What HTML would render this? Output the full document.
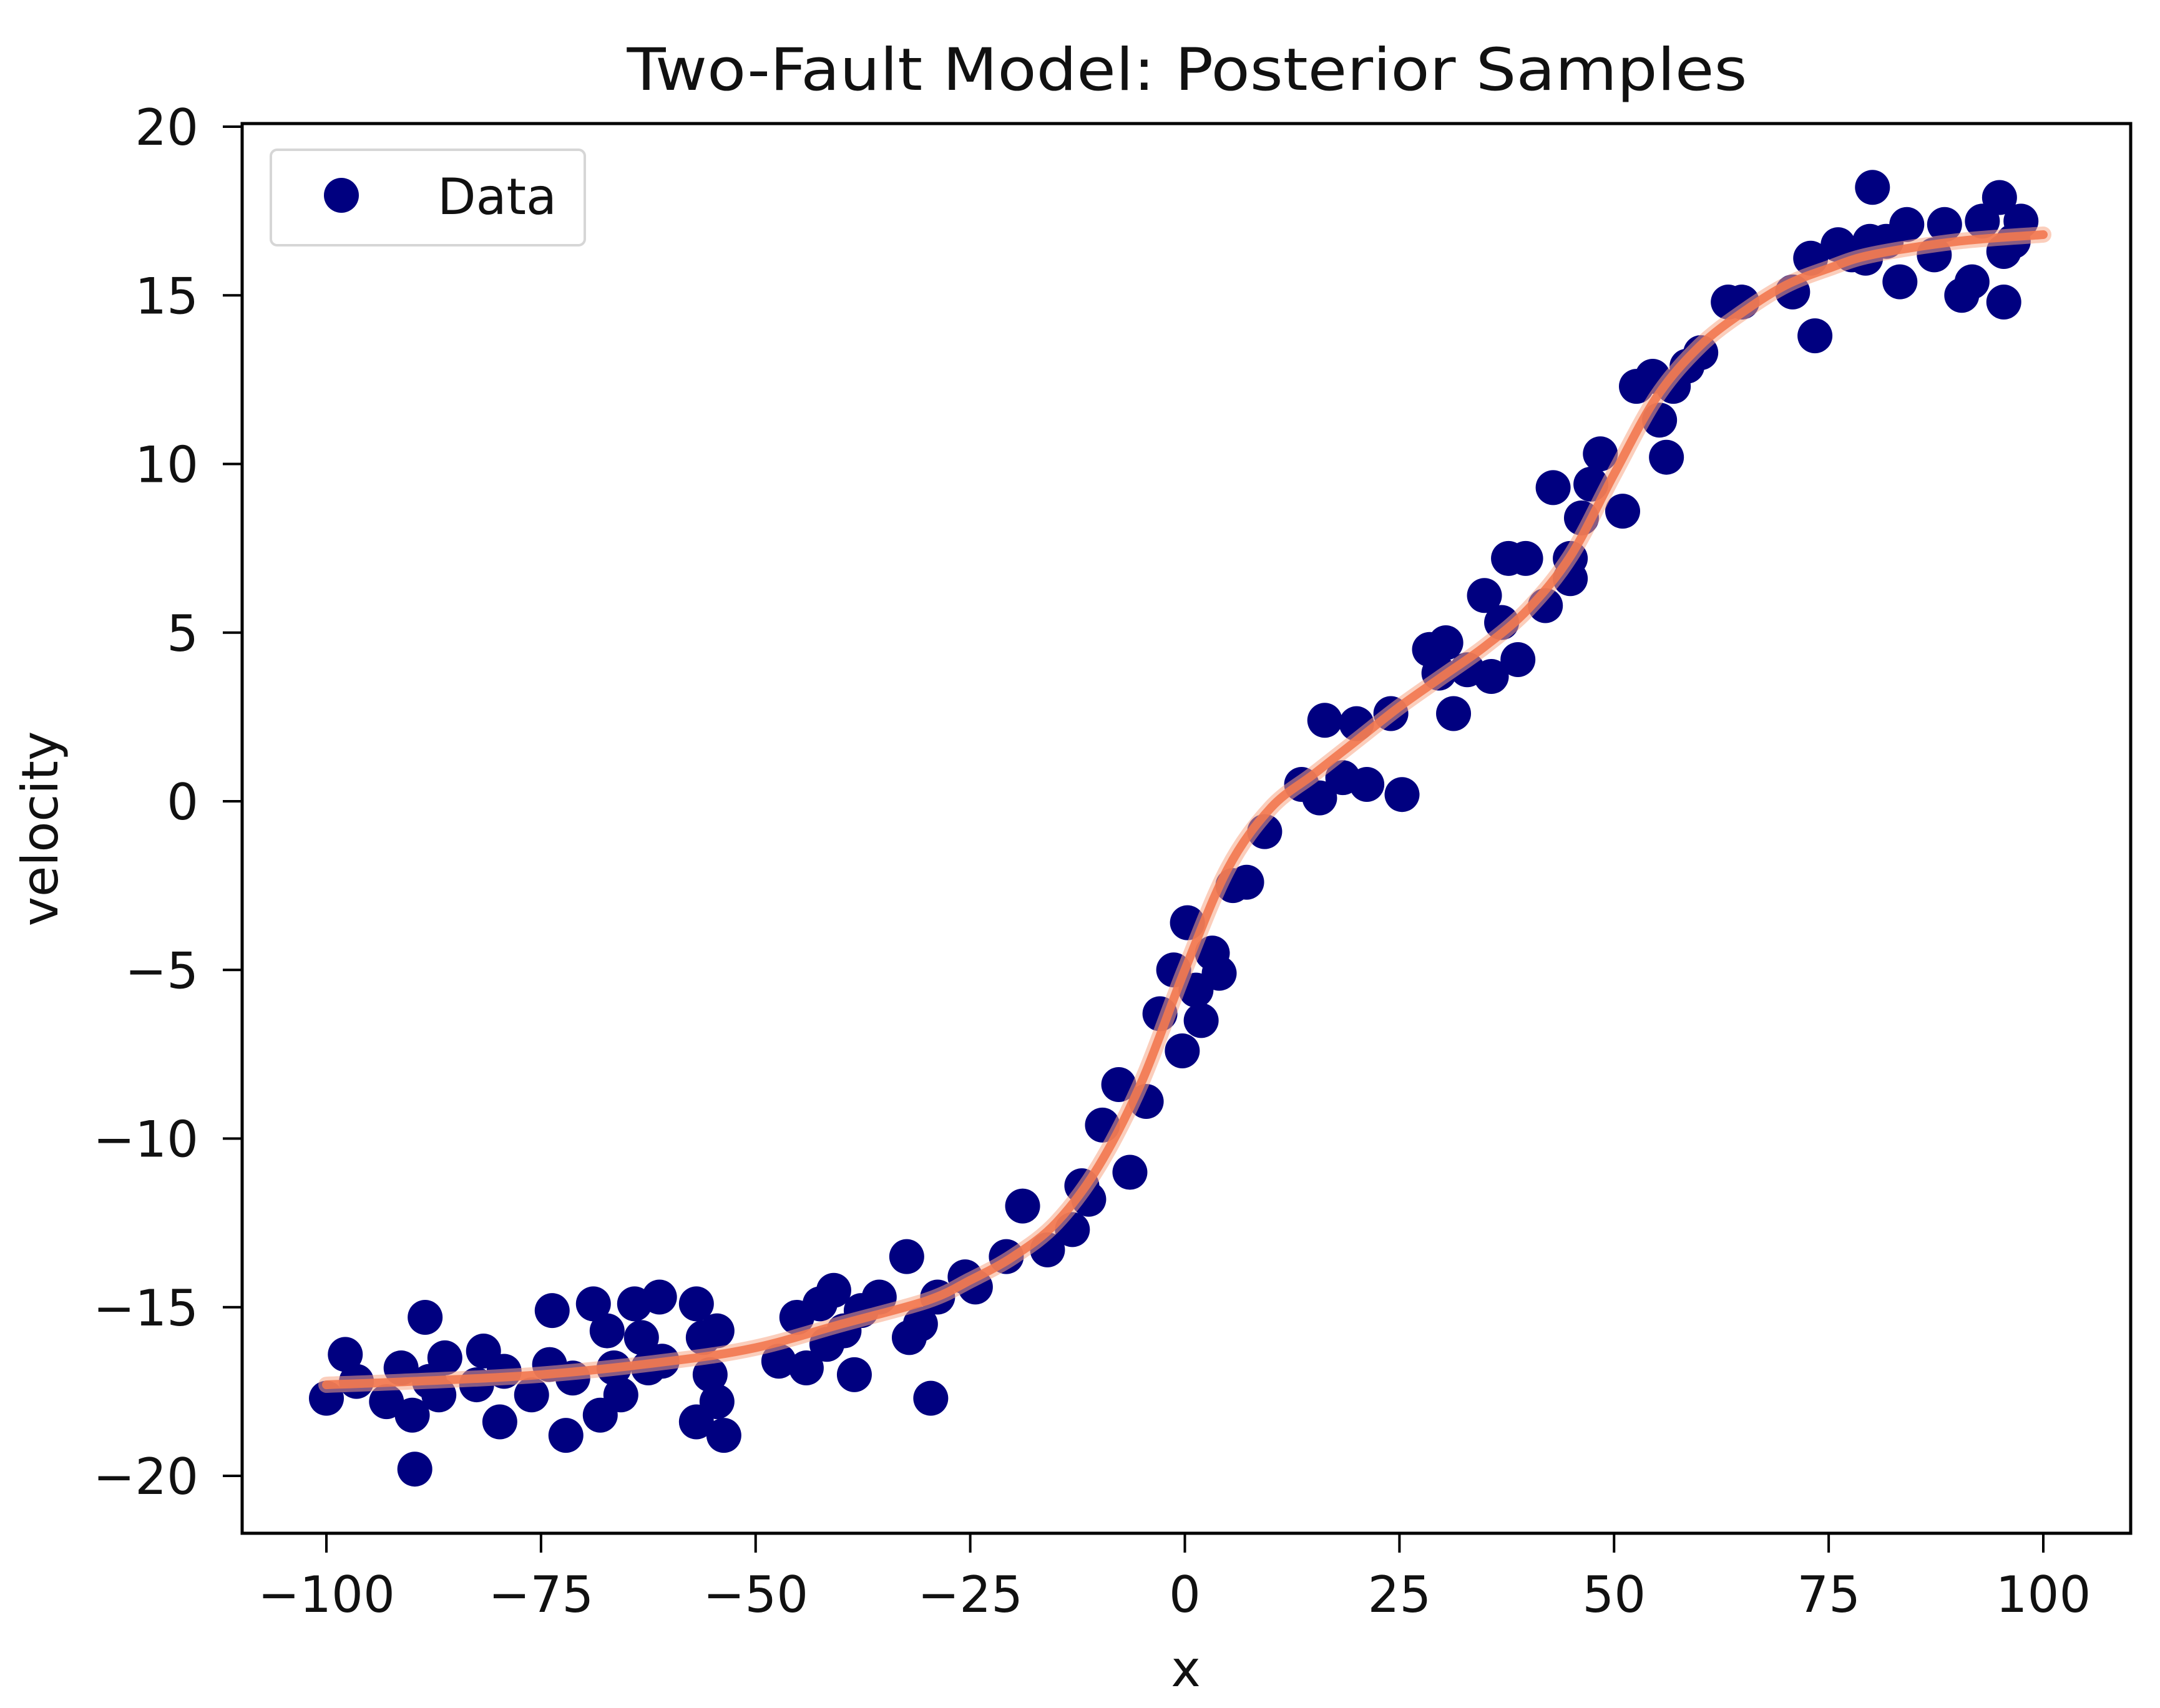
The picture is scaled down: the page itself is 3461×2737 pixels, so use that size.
<!DOCTYPE html>
<html><head><meta charset="utf-8"><style>
html,body{margin:0;padding:0;background:#fff;}
svg{display:block;font-family:"DejaVu Sans","Liberation Sans",sans-serif;}
</style></head><body>
<svg id="chart" width="3461" height="2737" viewBox="0 0 3461 2737" xmlns="http://www.w3.org/2000/svg">
<rect x="0" y="0" width="3461" height="2737" fill="#fff"/>
<text x="1902" y="144" font-size="94" text-anchor="middle" textLength="1795" lengthAdjust="spacingAndGlyphs" fill="#111">Two-Fault Model: Posterior Samples</text>
<g id="marks"></g>
<rect x="388" y="198" width="3026" height="2259" fill="none" stroke="#000" stroke-width="5"/>
<g id="axes"></g>
<text x="1900" y="2702" font-size="80" text-anchor="middle" fill="#111">x</text>
<text transform="translate(92,1328) rotate(-90)" font-size="80" text-anchor="middle" fill="#111">velocity</text>
<g>
<rect x="434" y="240" width="503" height="153" rx="10" fill="#fff" fill-opacity="0.8" stroke="#d6d6d6" stroke-width="4"/>
<circle cx="547" cy="313" r="28" fill="#000080"/>
<text x="701" y="343" font-size="80" fill="#111">Data</text>
</g>
</svg>
<script>
const xTicks = [-100, -75, -50, -25, 0, 25, 50, 75, 100];
const yTicks = [-20, -15, -10, -5, 0, 5, 10, 15, 20];
const dataX = [-100,-97.8,-96.5,-93,-91.3,-90,-89.7,-88.5,-88,-86.9,-86.2,-82.5,-81.7,-79.8,-79.3,-76.1,-74,-73.7,-72.1,-71.3,-68.9,-68.1,-67.3,-66.5,-65.7,-64.1,-63.3,-62.5,-61.2,-60.9,-56.9,-56.9,-56.1,-55.3,-54.5,-53.7,-54.5,
-47.3,-45.2,-44.1,-42.5,-41.7,-40.9,-39.7,-38.5,-37.7,-35.6,-32.4,-32.1,-30.8,-29.6,-28.8,-25.6,-24.4,
-20.8,-18.9,-16,-13.1,-12,-11.2,-9.6,-7.7,-6.4,-4.5,-2.9,-1.3,-0.3,0.3,1.3,1.9,3.2,4,5.6,7.2,9.3,
13.6,15.7,16.3,18.4,20,21.2,24,25.3,28.5,29.6,30.4,31.3,32.9,34.9,35.7,36.9,37.7,38.8,39.7,42,42.9,44.9,44.9,46.2,48.4,47.3,51,
52.6,54.5,55.3,56.1,56.9,58.5,60.1,63.3,64.9,70.8,72.9,73.4,76.1,77.7,79.3,80.1,79.8,81.7,83.3,84.1,87.3,88.5,90.5,91.7,92.9,94.9,95.4,95.4,96.5,97.4];
const dataY = [-17.7,-16.4,-17.2,-17.8,-16.8,-18.2,-19.8,-15.3,-17.2,-17.6,-16.5,-17.3,-16.3,-18.4,-16.9,-17.6,-16.7,-15.1,-18.8,-17.1,-14.9,-18.2,-15.7,-16.8,-17.6,-14.9,-15.9,-16.8,-14.7,-16.6,-14.9,-18.4,-15.9,-17,-17.8,-18.8,-15.7,
-16.6,-15.3,-16.8,-14.9,-16.1,-14.5,-15.7,-17,-15.1,-14.7,-13.5,-15.9,-15.5,-17.7,-14.7,-14.1,-14.4,
-13.5,-12,-13.3,-12.7,-11.4,-11.8,-9.6,-8.4,-11,-8.9,-6.3,-5,-7.4,-3.6,-5.6,-6.5,-4.5,-5.1,-2.5,-2.4,-0.9,
0.5,0.1,2.4,0.7,2.3,0.5,2.6,0.2,4.5,3.8,4.7,2.6,3.9,6.1,3.7,5.3,7.2,4.2,7.2,5.8,9.3,6.6,7.2,8.4,10.3,9.4,8.6,
12.3,12.6,11.3,10.2,12.3,12.9,13.3,14.8,14.8,15.1,16.1,13.8,16.5,16.2,16.1,18.2,16.6,16.6,15.4,17.1,16.2,17.1,15,15.4,17.2,17.9,14.8,16.3,16.6,17.2];
const curveX = [-100,-90,-75,-60,-50,-40,-30,-25,-20,-15,-10,-5,0,5,10,15,20,25,30,35,40,45,50,55,60,65,70,75,80,90,100];
const curveY = [-17.3,-17.2,-17.0,-16.6,-16.2,-15.5,-14.8,-14.2,-13.5,-12.5,-10.8,-8.3,-5.0,-2.0,-0.2,0.8,1.8,2.8,3.7,4.6,5.7,7.3,9.7,12.0,13.5,14.5,15.3,15.8,16.2,16.6,16.8];

const NS = "http://www.w3.org/2000/svg";
function sx(v){ return 523 + (v + 100) * 13.755; }
function sy(v){ return 203 + (20 - v) * 54.05; }
const axes = document.getElementById('axes');
const marks = document.getElementById('marks');

xTicks.forEach(t => {
  const l = document.createElementNS(NS,'line');
  
  
  l.setAttribute('x1',sx(t)); l.setAttribute('x2',sx(t));
  l.setAttribute('y1',2457); l.setAttribute('y2',2488);
  l.setAttribute('stroke','#000'); l.setAttribute('stroke-width','4');
  axes.appendChild(l);
  const tx = document.createElementNS(NS,'text');
  
  
  tx.setAttribute('x',sx(t)); tx.setAttribute('y',2583);
  tx.setAttribute('font-size','80'); tx.setAttribute('text-anchor','middle'); tx.setAttribute('fill','#111');
  tx.textContent = t < 0 ? '\u2212' + Math.abs(t) : String(t);
  axes.appendChild(tx);
});
yTicks.forEach(t => {
  const l = document.createElementNS(NS,'line');
  
  
  l.setAttribute('x1',357); l.setAttribute('x2',388);
  l.setAttribute('y1',sy(t)); l.setAttribute('y2',sy(t));
  l.setAttribute('stroke','#000'); l.setAttribute('stroke-width','4');
  axes.appendChild(l);
  const tx = document.createElementNS(NS,'text');
  
  
  tx.setAttribute('x',318); tx.setAttribute('y',sy(t)+29);
  tx.setAttribute('font-size','80'); tx.setAttribute('text-anchor','end'); tx.setAttribute('fill','#111');
  tx.textContent = t < 0 ? '\u2212' + Math.abs(t) : String(t);
  axes.appendChild(tx);
});

dataX.forEach((x,i) => {
  const c = document.createElementNS(NS,'circle');
  
  
  c.setAttribute('cx',sx(x)); c.setAttribute('cy',sy(dataY[i]));
  c.setAttribute('r','28'); c.setAttribute('fill','#000080');
  marks.appendChild(c);
});

const P = curveX.map((x,i)=>[sx(x), sy(curveY[i])]);
let d = 'M' + P[0][0] + ',' + P[0][1];
for (let i=0;i<P.length-1;i++){
  const p0=P[Math.max(i-1,0)], p1=P[i], p2=P[i+1], p3=P[Math.min(i+2,P.length-1)];
  const c1=[p1[0]+(p2[0]-p0[0])/6, p1[1]+(p2[1]-p0[1])/6];
  const c2=[p2[0]-(p3[0]-p1[0])/6, p2[1]-(p3[1]-p1[1])/6];
  d += ' C'+c1[0]+','+c1[1]+' '+c2[0]+','+c2[1]+' '+p2[0]+','+p2[1];
}
[[26,'#f7a585',0.55],[14,'#f2784f',0.9]].forEach(s => {
  const p = document.createElementNS(NS,'path');
  
  
  p.setAttribute('d',d); p.setAttribute('fill','none');
  p.setAttribute('stroke',s[1]); p.setAttribute('stroke-width',s[0]);
  p.setAttribute('stroke-opacity',s[2]); p.setAttribute('stroke-linecap','round');
  marks.appendChild(p);
});
</script>
</body></html>
